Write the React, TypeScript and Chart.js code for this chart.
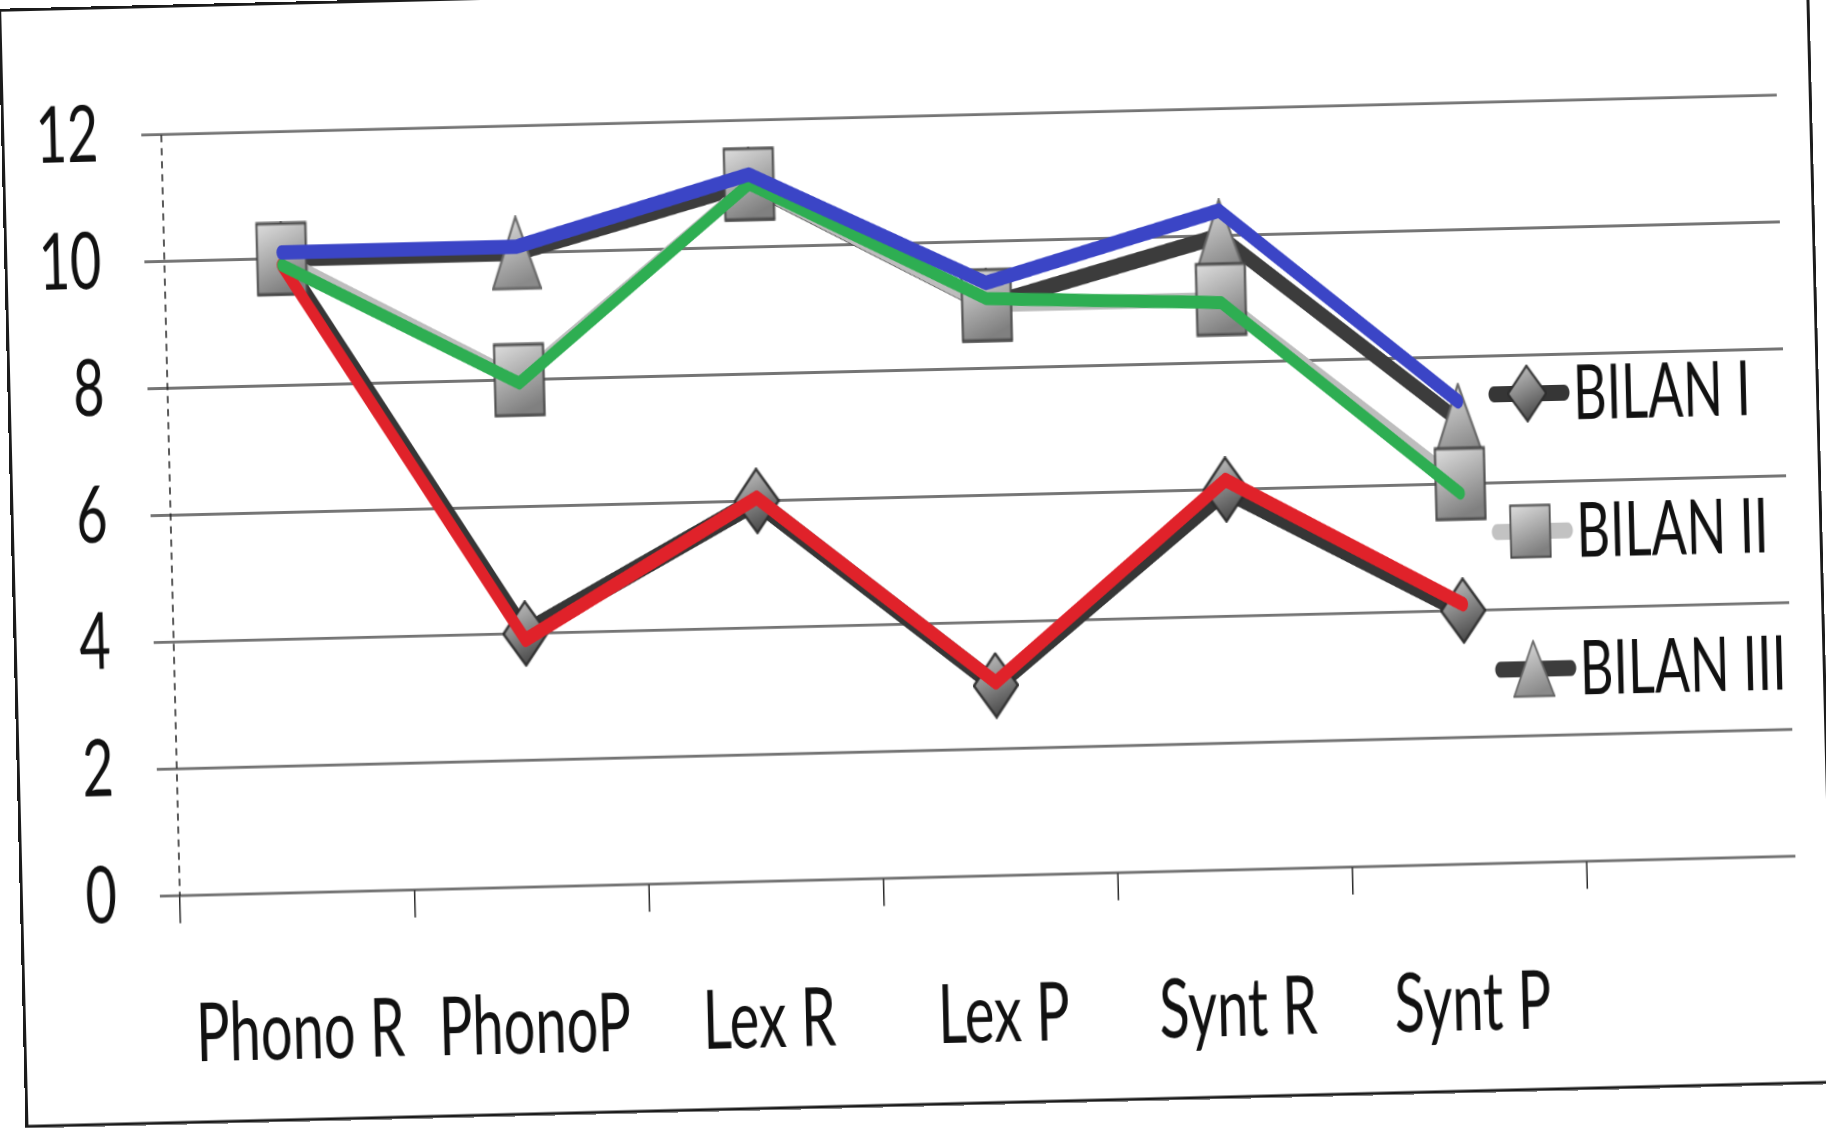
import React, { useEffect, useRef } from 'react';
import { Chart, registerables } from 'chart.js';

Chart.register(...registerables);

// ---- data ----
const categories = ['Phono R', 'PhonoP', 'Lex R', 'Lex P', 'Synt R', 'Synt P'];
const seriesNames = ['BILAN I', 'BILAN II', 'BILAN III'];
const bilan1 = [10, 4, 6, 3, 6, 4];
const bilan2 = [10, 8, 11, 9, 9, 6];
const bilan3 = [10, 10, 11, 9, 10, 7];
// coloured strokes drawn by hand over the printed series
const blueStroke = [10.1, 10.1, 11.15, 9.35, 10.4, 7.3];
const greenStroke = [9.9, 7.95, 11.0, 9.1, 8.95, 5.85];
const redStroke = [9.9, 3.9, 6.05, 3.05, 6.15, 4.1];
const yTicks = [0, 2, 4, 6, 8, 10, 12];

type Kind = 'diamond' | 'square' | 'triangle';

function makeMarker(kind: Kind, w: number, h: number, light: string, dark: string, edge: string) {
  const c = document.createElement('canvas');
  c.width = w;
  c.height = h;
  const ctx = c.getContext('2d') as CanvasRenderingContext2D;
  const g = ctx.createLinearGradient(0, 0, w * 0.35, h);
  g.addColorStop(0, light);
  g.addColorStop(1, dark);
  ctx.beginPath();
  if (kind === 'diamond') {
    ctx.moveTo(w / 2, 1);
    ctx.lineTo(w - 1, h / 2);
    ctx.lineTo(w / 2, h - 1);
    ctx.lineTo(1, h / 2);
  } else if (kind === 'square') {
    ctx.rect(1.5, 1.5, w - 3, h - 3);
  } else {
    ctx.moveTo(w / 2, 1);
    ctx.lineTo(w - 1, h - 1.5);
    ctx.lineTo(1, h - 1.5);
  }
  ctx.closePath();
  ctx.fillStyle = g;
  ctx.fill();
  ctx.lineWidth = 2;
  ctx.strokeStyle = edge;
  ctx.stroke();
  return c;
}

const pts = (arr: number[]) => arr.map((y, i) => ({ x: i, y }));

export default function App() {
  const ref = useRef<HTMLCanvasElement | null>(null);

  useEffect(() => {
    let chart: Chart | null = null;
    let cancelled = false;

    const build = () => {
      if (cancelled || !ref.current) return;
      const diamond = makeMarker('diamond', 46, 46, '#cfcfcf', '#4e4e4e', '#2e2e2e');
      const square = makeMarker('square', 52, 52, '#e2e2e2', '#808080', '#474747');
      const triangle = makeMarker('triangle', 50, 52, '#e4e4e4', '#8a8a8a', '#666666');

      const legendRows = [
        { name: seriesNames[0], color: '#363636', img: diamond, w: 40, h: 40 },
        { name: seriesNames[1], color: '#c2c2c2', img: square, w: 42, h: 38 },
        { name: seriesNames[2], color: '#3c3c3c', img: triangle, w: 42, h: 40 },
      ];

      const axisPlugin = {
        id: 'dashedAxis',
        beforeDatasetsDraw(c: any) {
          const { ctx, chartArea } = c;
          ctx.save();
          ctx.strokeStyle = '#222222';
          ctx.lineWidth = 1.5;
          ctx.setLineDash([5, 4]);
          ctx.beginPath();
          ctx.moveTo(chartArea.left, chartArea.top);
          ctx.lineTo(chartArea.left, chartArea.bottom);
          ctx.stroke();
          ctx.restore();
        },
      };

      const legendPlugin = {
        id: 'bilanLegend',
        afterDatasetsDraw(c: any) {
          const { ctx, chartArea } = c;
          const firstRow = chartArea.top + 201.3;
          const gap = 95;
          legendRows.forEach((r, k) => {
            const cy = firstRow + k * gap;
            ctx.save();
            ctx.lineCap = 'round';
            ctx.lineWidth = 11;
            ctx.strokeStyle = r.color;
            ctx.beginPath();
            ctx.moveTo(chartArea.right - 290, cy);
            ctx.lineTo(chartArea.right - 220, cy);
            ctx.stroke();
            ctx.drawImage(r.img, chartArea.right - 257 - r.w / 2, cy - r.h / 2, r.w, r.h);
            ctx.fillStyle = '#111111';
            ctx.font = '52px Lato';
            ctx.textAlign = 'left';
            ctx.textBaseline = 'alphabetic';
            ctx.fillText(r.name, chartArea.right - 211, cy + 18.5);
            ctx.restore();
          });
        },
      };

      chart = new Chart(ref.current, {
        type: 'line',
        data: {
          datasets: [
            { label: 'blue', data: pts(blueStroke), borderColor: '#3b45c6', borderWidth: 10, pointRadius: 0, order: 0 },
            { label: 'green', data: pts(greenStroke), borderColor: '#2eae52', borderWidth: 9, pointRadius: 0, order: 0 },
            { label: 'red', data: pts(redStroke), borderColor: '#e0222a', borderWidth: 10, pointRadius: 0, order: 0 },
            { label: seriesNames[0], data: pts(bilan1), borderColor: '#363636', borderWidth: 14, pointStyle: diamond as any, pointRadius: 24, order: 2 },
            { label: seriesNames[1], data: pts(bilan2), borderColor: '#bdbdbd', borderWidth: 10, pointStyle: square as any, pointRadius: 26, order: 1 },
            { label: seriesNames[2], data: pts(bilan3), borderColor: '#3c3c3c', borderWidth: 11, pointStyle: triangle as any, pointRadius: 26, order: 3 },
          ] as any,
        },
        options: {
          animation: false,
          responsive: true,
          maintainAspectRatio: false,
          devicePixelRatio: 2,
          events: [],
          layout: { padding: { left: 0, right: 29, top: 80.7, bottom: 0 } },
          elements: {
            line: { tension: 0, borderJoinStyle: 'round', borderCapStyle: 'round', fill: false },
          },
          plugins: { legend: { display: false }, tooltip: { enabled: false } },
          scales: {
            x: {
              type: 'linear',
              min: -0.5,
              max: 6.39,
              afterBuildTicks: (s: any) => {
                s.ticks = categories.map((_, i) => ({ value: i }));
              },
              afterFit: (s: any) => {
                s.height = 173.5;
                s.paddingLeft = 0;
                s.paddingRight = 0;
              },
              ticks: {
                callback: (v: any) => categories[Math.round(Number(v))] ?? '',
                autoSkip: false,
                maxRotation: 0,
                minRotation: 0,
                padding: 44,
                color: '#111111',
                font: { family: 'Lato', size: 56 },
              },
              grid: { offset: true, drawOnChartArea: false, drawTicks: true, tickLength: 19, color: '#2a2a2a', lineWidth: 1.5 },
              border: { display: false },
            },
            y: {
              min: 0,
              max: 12,
              afterBuildTicks: (s: any) => {
                s.ticks = yTicks.map((v) => ({ value: v }));
              },
              afterFit: (s: any) => {
                s.width = 172;
                s.paddingTop = 0;
                s.paddingBottom = 0;
              },
              ticks: { padding: 43, color: '#111111', font: { family: 'Lato', size: 54 } },
              grid: { color: 'rgba(70,70,70,0.75)', lineWidth: 2, tickLength: 20, drawTicks: true },
              border: { display: false },
            },
          },
        } as any,
        plugins: [axisPlugin, legendPlugin],
      });
    };

    const fontsApi: any = (document as any).fonts;
    if (fontsApi && fontsApi.load) {
      Promise.all([fontsApi.load('56px Lato'), fontsApi.load('52px Lato')]).then(build, build);
    } else {
      build();
    }

    return () => {
      cancelled = true;
      if (chart) chart.destroy();
    };
  }, []);

  return (
    <div style={{ position: 'fixed', left: 0, top: 0, width: 1826, height: 1129, overflow: 'hidden', background: '#ffffff' }}>
      <div
        style={{
          position: 'absolute',
          left: 0,
          top: 175.34,
          width: 1826,
          height: 779,
          transformOrigin: '913px 389.66px',
          transform: 'rotate(-1.4deg) scale(1, 1.45)',
        }}
      >
        <div style={{ position: 'absolute', left: 0, top: 0, width: 1826, height: 779 }}>
          <canvas ref={ref} />
        </div>
        <div
          style={{
            position: 'absolute',
            left: 12,
            top: -9,
            width: 1811,
            height: 772,
            boxSizing: 'border-box',
            borderStyle: 'solid',
            borderColor: '#1b1b1b',
            borderWidth: '2px 3px 2px 3px',
            pointerEvents: 'none',
          }}
        />
      </div>
    </div>
  );
}
